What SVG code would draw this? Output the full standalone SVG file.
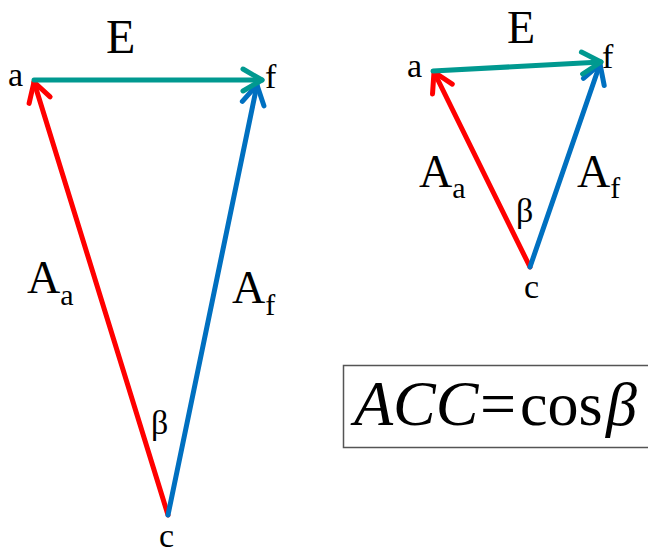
<svg xmlns="http://www.w3.org/2000/svg" width="648" height="556" viewBox="0 0 648 556">
<style>
.t{font-family:"Liberation Serif","Times New Roman",serif;fill:#000}
.s{font-size:34px}
.ln{fill:none;stroke-width:5;stroke-linecap:round}
.r{stroke:#ff0000}.b{stroke:#0070c0}.g{stroke:#009990}
</style>
<defs>
<marker id="mr" markerUnits="userSpaceOnUse" markerWidth="40" markerHeight="40" viewBox="-30 -20 40 40" refX="0" refY="0" orient="auto" overflow="visible"><path d="M-19,-11 L0,0 L-19,11" fill="none" stroke="#ff0000" stroke-width="5" stroke-linecap="round" stroke-linejoin="round"/></marker>
<marker id="mb" markerUnits="userSpaceOnUse" markerWidth="40" markerHeight="40" viewBox="-30 -20 40 40" refX="0" refY="0" orient="auto" overflow="visible"><path d="M-19,-11 L0,0 L-19,11" fill="none" stroke="#0070c0" stroke-width="5" stroke-linecap="round" stroke-linejoin="round"/></marker>
<marker id="mg" markerUnits="userSpaceOnUse" markerWidth="40" markerHeight="40" viewBox="-30 -20 40 40" refX="0" refY="0" orient="auto" overflow="visible"><path d="M-19,-11 L0,0 L-19,11" fill="none" stroke="#009990" stroke-width="5" stroke-linecap="round" stroke-linejoin="round"/></marker>
</defs>
<g id="connectors">
<line class="ln r" x1="168" y1="515" x2="34" y2="82" marker-end="url(#mr)"/>
<line class="ln b" x1="168" y1="515" x2="257" y2="85" marker-end="url(#mb)"/>
<line class="ln g" x1="34" y1="80" x2="262" y2="80" marker-end="url(#mg)"/>
<line class="ln r" x1="530" y1="267" x2="434" y2="72" marker-end="url(#mr)"/>
<line class="ln b" x1="530" y1="267" x2="600" y2="64" marker-end="url(#mb)"/>
<line class="ln g" x1="433" y1="71" x2="601" y2="62" marker-end="url(#mg)"/>
</g>
<g id="left-labels">
<text class="t" x="106" y="53" font-size="48">E</text>
<text class="t s" x="8" y="86">a</text>
<text class="t s" x="265" y="88">f</text>
<text class="t" x="27" y="293" font-size="46">A<tspan font-size="30" dy="12">a</tspan></text>
<text class="t" x="232" y="303" font-size="46">A<tspan font-size="30" dy="12">f</tspan></text>
<text class="t s" x="151" y="434">β</text>
<text class="t s" x="159" y="547">c</text>
</g>
<g id="right-labels">
<text class="t" x="507" y="43" font-size="46">E</text>
<text class="t s" x="407" y="77">a</text>
<text class="t s" x="602" y="68">f</text>
<text class="t" x="419" y="187" font-size="46">A<tspan font-size="30" dy="11">a</tspan></text>
<text class="t" x="577" y="187" font-size="46">A<tspan font-size="30" dy="11">f</tspan></text>
<text class="t s" x="516" y="222">β</text>
<text class="t s" x="524" y="298">c</text>
</g>
<g id="formula">
<rect x="343.5" y="365.5" width="310" height="82" fill="#fff" stroke="#555" stroke-width="1.5"/>
<text class="t" x="354" y="425" font-size="64" font-style="italic">ACC</text>
<text class="t" x="480" y="425" font-size="64">=</text>
<text class="t" x="520" y="425" font-size="62">cos</text>
<text class="t" x="606" y="425" font-size="62" font-style="italic">β</text>
</g>
</svg>
